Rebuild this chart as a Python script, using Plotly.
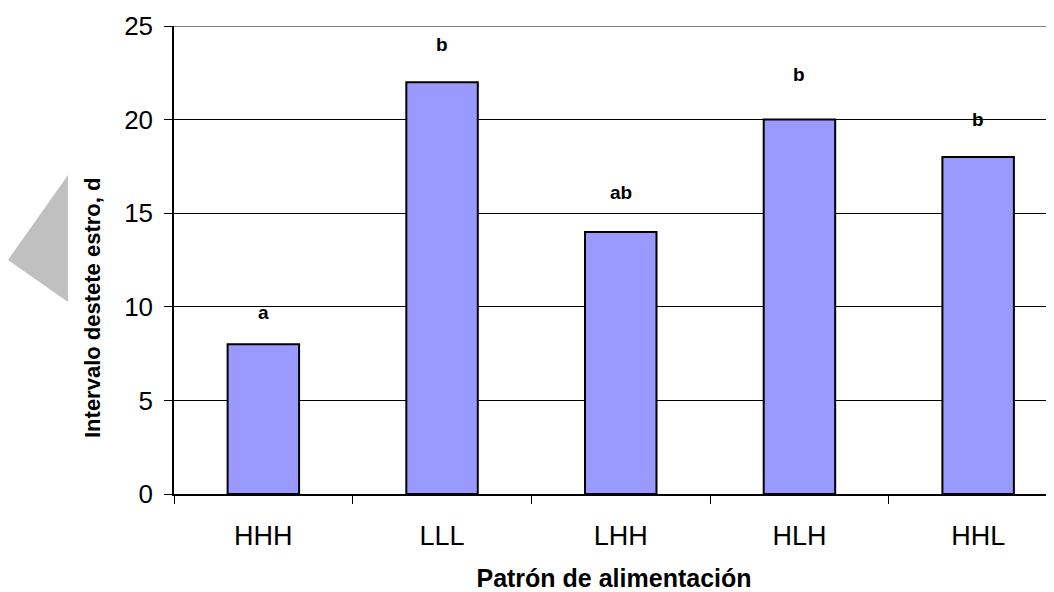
import plotly.graph_objects as go

patrones = ['HHH', 'LLL', 'LHH', 'HLH', 'HHL']
intervalo = [8, 22, 14, 20, 18]
letras = ['a', 'b', 'ab', 'b', 'b']
letras_y = [9.7, 24.0, 16.1, 22.4, 20.0]
y_ticks = [0, 5, 10, 15, 20, 25]

# the page body adds an 8px margin, so the figure is laid out in page pixels minus 8
OFF = 8
W, H = 1054 - OFF, 592 - OFF
L, T = 174 - OFF, 26 - OFF
B = H - (494 - OFF)
pw, ph = W - L, H - T - B
cat_px = 178.7


def px_x(v):
    return (v - OFF - L) / pw


def px_y(v):
    return (H - B - (v - OFF)) / ph


fig = go.Figure()
fig.add_trace(go.Bar(
    x=patrones, y=intervalo, width=0.4,
    marker=dict(color='#9999FF', line=dict(color='#000000', width=2)),
    showlegend=False, hoverinfo='skip'
))

for p, t, ly in zip(patrones, letras, letras_y):
    fig.add_annotation(x=p, y=ly, text=f"<b>{t}</b>", showarrow=False,
                       font=dict(family='Arial', size=19, color='#000'),
                       yanchor='middle', xanchor='center')

# y title sits a bit below the plot's middle in the original
fig.add_annotation(xref='paper', yref='paper', x=px_x(92), y=px_y(308),
                   text='<b>Intervalo destete estro, d</b>', textangle=-90,
                   showarrow=False, xanchor='center', yanchor='middle',
                   font=dict(family='Arial', size=22, color='#000'))

# grey top line at 25
fig.add_shape(type='line', xref='paper', yref='y', x0=0, x1=1, y0=25, y1=25,
              line=dict(color='#808080', width=2))

# grey triangle left of the y title
tri = f"M {px_x(68)} {px_y(175)} L {px_x(8)} {px_y(260)} L {px_x(68)} {px_y(302)} Z"
fig.add_shape(type='path', xref='paper', yref='paper', path=tri,
              fillcolor='#C0C0C0', line=dict(width=0), layer='below')

x_end = -0.5 + pw / cat_px

fig.update_layout(
    width=W, height=H, margin=dict(l=L, r=0, t=T, b=B),
    plot_bgcolor='white', paper_bgcolor='white',
    font=dict(family='Arial', color='#000'),
    xaxis=dict(
        range=[-0.5, x_end], tickson='boundaries', ticks='outside', ticklen=8,
        tickcolor='#000', showline=True, linecolor='#000', linewidth=1.5,
        showgrid=False, tickfont=dict(size=27, family='Arial'), ticklabelstandoff=17,
        title=dict(text='<b>Patrón de alimentación</b>', font=dict(size=25, family='Arial'), standoff=20)
    ),
    yaxis=dict(
        range=[0, 25], tickvals=y_ticks, ticks='outside', ticklen=8, tickcolor='#000',
        showline=True, linecolor='#000', linewidth=1.5,
        showgrid=True, gridcolor='#000', gridwidth=1, zeroline=False,
        tickfont=dict(size=26, family='Arial'), ticklabelstandoff=6,
    ),
)

fig.write_html("out.html")
